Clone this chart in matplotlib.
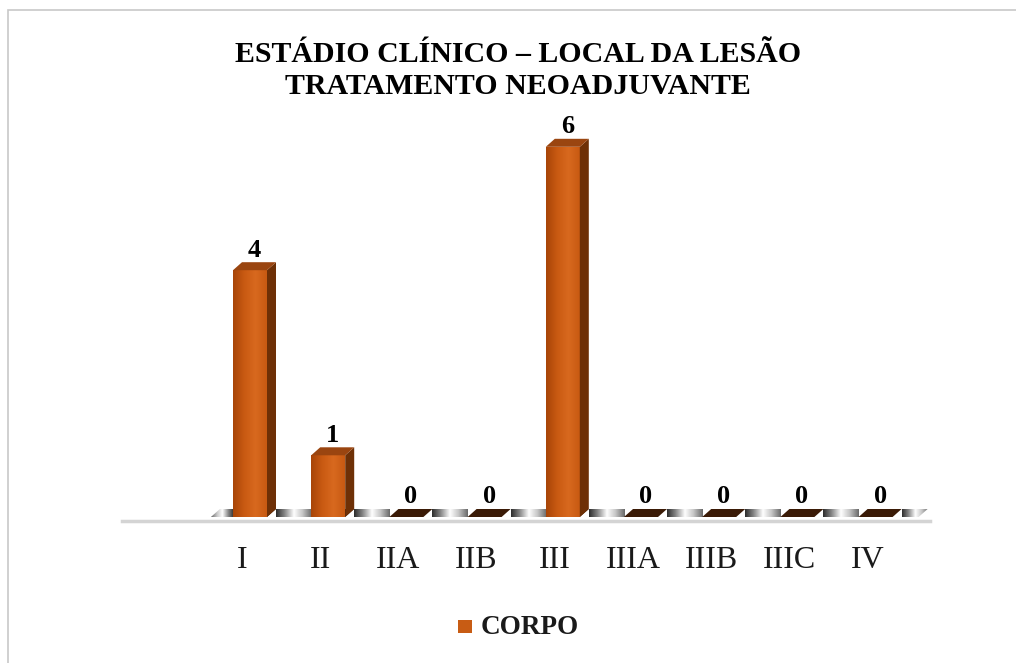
import numpy as np
import matplotlib
matplotlib.use("Agg")
import matplotlib.pyplot as plt
from matplotlib.patches import Polygon, Rectangle
from matplotlib.colors import LinearSegmentedColormap

categories = ["I", "II", "IIA", "IIB", "III", "IIIA", "IIIB", "IIIC", "IV"]
values = [4, 1, 0, 0, 6, 0, 0, 0, 0]
series_name = "CORPO"
title_lines = ["ESTÁDIO CLÍNICO – LOCAL DA LESÃO", "TRATAMENTO NEOADJUVANTE"]

W, H = 1016, 663
fig = plt.figure(figsize=(W / 100, H / 100), dpi=100)
fig.patch.set_facecolor("white")

# frame border
fig.patches.append(Rectangle((8 / W, -0.01), 1.02, 1 - 10 / H + 0.01, transform=fig.transFigure,
                             fill=False, edgecolor="#c8c8c8", linewidth=1.2))

# axes placement in pixels
ax_left, ax_right = 122, 930
ax_bottom, ax_top = 522, 130
ax = fig.add_axes([ax_left / W, 1 - ax_bottom / H, (ax_right - ax_left) / W, (ax_bottom - ax_top) / H])
px_per_cat = 78.2
x0 = 250
xlim = ((ax_left - x0) / px_per_cat, (ax_right - x0) / px_per_cat)
px_per_unit = 61.7
base_px = 517
ylim = (-(ax_bottom - base_px) / px_per_unit, (base_px - ax_top) / px_per_unit)
ax.set_xlim(*xlim)
ax.set_ylim(*ylim)
ax.axis("off")

bw = 34 / px_per_cat
dx = 9 / px_per_cat
dy = 8 / px_per_unit
xs = np.arange(len(categories), dtype=float)

# floor band (gradient between bars, dark shadow under bars)
gap_cmap = LinearSegmentedColormap.from_list(
    "gap", ["#2e2e2e", "#8c8c8c", "#ffffff", "#c4c4c4", "#6a6a6a"])
grad = np.linspace(0, 1, 64).reshape(1, -1)
fl, fr = -0.5, len(categories) - 0.5 + 0.05
band = Polygon([(fl, 0), (fr, 0), (fr + dx, dy), (fl + dx, dy)], closed=True,
               facecolor="none", edgecolor="none")
ax.add_patch(band)
edges = [fl] + [x + bw / 2 + dx for x in xs]
starts = [x - bw / 2 for x in xs] + [fr + dx]
for a, b in zip(edges, starts):
    im = ax.imshow(grad[:, ::-1] if a == fl else grad, cmap=gap_cmap, aspect="auto",
                   extent=(a, b, 0, dy), zorder=1)
    im.set_clip_path(band)
for x in xs:
    sh = Polygon([(x - bw / 2, 0), (x + bw / 2, 0), (x + bw / 2 + dx, dy), (x - bw / 2 + dx, dy)],
                 closed=True, facecolor="#3a1a06", edgecolor="none", zorder=1.2)
    ax.add_patch(sh)

# axis line
ax.plot([xlim[0], xlim[1]], [ylim[0] + 0.01, ylim[0] + 0.01], color="#d4d4d4", lw=2.5,
        zorder=0.5, clip_on=False)

bars = ax.bar(xs, values, width=bw, color="#c85c14", edgecolor="none", zorder=3)
cmap = LinearSegmentedColormap.from_list("front", ["#a84508", "#c95a12", "#d8691f", "#c85a12"])
for b, v in zip(bars, values):
    if v <= 0:
        continue
    x, w = b.get_x(), b.get_width()
    im = ax.imshow(grad, cmap=cmap, aspect="auto", extent=(x, x + w, 0, v), zorder=3.1)
    im.set_clip_path(b)
    side = Polygon([(x + w, 0), (x + w + dx, dy), (x + w + dx, v + dy), (x + w, v)],
                   closed=True, facecolor="#6e3006", edgecolor="none", zorder=3.2)
    top = Polygon([(x, v), (x + w, v), (x + w + dx, v + dy), (x + dx, v + dy)],
                  closed=True, facecolor="#9a4510", edgecolor="none", zorder=3.2)
    ax.add_patch(side)
    ax.add_patch(top)

serif = ["Liberation Serif", "DejaVu Serif"]
for x, v in zip(xs, values):
    ax.text(x + dx / 2, v + dy + 0.01, str(v), ha="center", va="bottom", fontsize=19,
            fontweight="bold", family=serif, zorder=5)

# category labels
for i, c in enumerate(categories):
    fig.text((x0 + px_per_cat * i - 8) / W, 1 - 560 / H, c, ha="center", va="center",
             fontsize=23, family=serif, color="#1a1a1a")

# title
fig.text(518 / W, 1 - 54 / H, title_lines[0], ha="center", va="center", fontsize=21.5,
         fontweight="bold", family=serif)
fig.text(518 / W, 1 - 87 / H, title_lines[1], ha="center", va="center", fontsize=21.5,
         fontweight="bold", family=serif)

# legend
fig.patches.append(Rectangle((458 / W, 1 - 633 / H), 14 / W, 13 / H, transform=fig.transFigure,
                             facecolor="#c85c14", edgecolor="none"))
fig.text(481 / W, 1 - 627 / H, series_name, ha="left", va="center", fontsize=19.5,
         fontweight="bold", family=serif, color="#1a1a1a")

fig.savefig("out.png", dpi=100)
